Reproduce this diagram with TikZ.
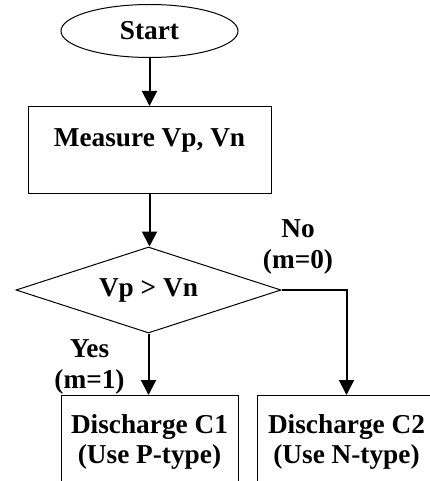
\documentclass[tikz,border=0pt]{standalone}
\usepackage{fontspec}
\setmainfont{Liberation Serif}
\usetikzlibrary{shapes.geometric,arrows.meta}
\begin{document}
\begin{tikzpicture}[x=1pt,y=-1pt,
  every node/.style={font=\fontsize{27.3}{30.5}\selectfont\bfseries, align=center},
  startbox/.style={ellipse, draw, line width=1pt, minimum width=177pt, minimum height=53pt, inner sep=0pt},
  procbox/.style={rectangle, draw, line width=1pt, anchor=north, inner xsep=0pt},
  decbox/.style={diamond, draw, line width=1pt, aspect=3, inner sep=0pt, minimum width=265pt, minimum height=86pt},
  flow/.style={line width=2pt, -{Triangle[length=15pt,width=15pt]}},
  branchlabel/.style={inner sep=0pt, anchor=base}]
  \path[use as bounding box, clip] (0,0) rectangle (430,481);

  % start terminal
  \node[startbox] (start) at (149.5,31) {Start};

  % measurement step
  \node[procbox, minimum width=243pt, text height=20pt, text depth=27pt, inner ysep=20pt]
    (measure) at (149.5,106) {Measure Vp, Vn};

  % comparison
  \node[decbox] (cmp) at (148.5,290) {Vp > Vn};

  % the two discharge paths (two-line text: baseline is the last line)
  \node[procbox, minimum width=177pt, text height=50pt, text depth=100pt, inner ysep=18pt]
    (dischP) at (149.5,395) {Discharge C1\\(Use P-type)};
  \node[procbox, minimum width=179pt, text height=50pt, text depth=100pt, inner ysep=18pt]
    (dischN) at (346.5,395) {Discharge C2\\(Use N-type)};

  % branch labels (anchored on the baseline of their second line)
  \node[branchlabel] (lblno) at (298,268) {No\\(m=0)};
  \node[branchlabel] (lblyes) at (89.5,388) {Yes\\(m=1)};

  % connectors
  \draw[flow] (start) -- (measure);
  \draw[flow] (measure.south) -- (measure.south |- cmp.north);
  \draw[flow] (cmp.south) -- (cmp.south |- dischP.north);
  \draw[flow] (cmp.east) -| (dischN.north);
\end{tikzpicture}
\end{document}
